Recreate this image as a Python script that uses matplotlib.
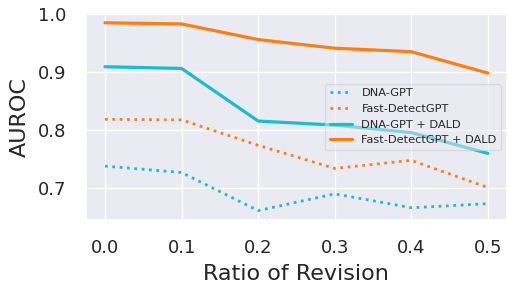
import numpy as np
import matplotlib
matplotlib.use('Agg')
import matplotlib.pyplot as plt
import seaborn as sns

ratios = [0.0, 0.1, 0.2, 0.3, 0.4, 0.5]
dna_gpt = [0.737, 0.726, 0.660, 0.689, 0.665, 0.672]
fast_detect = [0.818, 0.817, 0.773, 0.733, 0.747, 0.700]
dna_gpt_dald = [0.909, 0.906, 0.815, 0.808, 0.795, 0.759]
fast_detect_dald = [0.985, 0.983, 0.956, 0.941, 0.935, 0.898]

sns.set_theme(style='darkgrid', font_scale=1.0)
plt.rcParams['font.family'] = ['DejaVu Sans']

fig = plt.figure(figsize=(5.08, 2.85), dpi=100)
ax = fig.add_subplot(111)
ax.plot(ratios, dna_gpt, ':', color='#17becf', lw=2.0, label='DNA-GPT')
ax.plot(ratios, fast_detect, ':', color='#ff7f0e', lw=2.0, label='Fast-DetectGPT')
ax.plot(ratios, dna_gpt_dald, '-', color='#17becf', lw=2.3, label='DNA-GPT + DALD')
ax.plot(ratios, fast_detect_dald, '-', color='#ff7f0e', lw=2.3, label='Fast-DetectGPT + DALD')

ax.set_xticks(ratios)
ax.set_yticks([0.7, 0.8, 0.9, 1.0])
ax.tick_params(labelsize=13, length=0, pad=14)
ax.set_xlabel('Ratio of Revision', fontsize=16, labelpad=5)
ax.set_ylabel('AUROC', fontsize=16, labelpad=6)
ax.legend(loc='center right', fontsize=8.2, framealpha=0.5)

plt.subplots_adjust(left=0.169, right=0.998, top=0.953, bottom=0.228)
plt.savefig('out.png', dpi=100)
plt.close()
